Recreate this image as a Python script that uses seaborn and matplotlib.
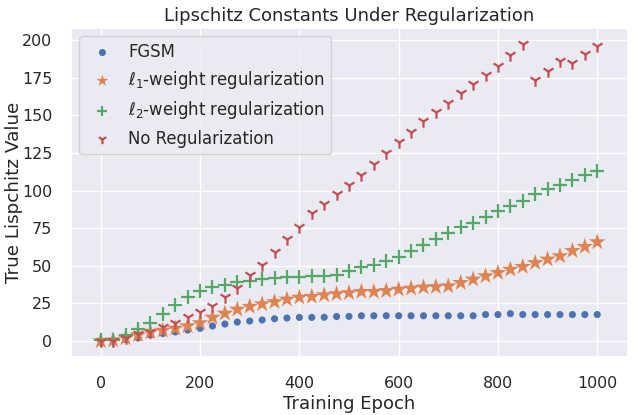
import numpy as np
import pandas as pd
import matplotlib
matplotlib.use("Agg")
import matplotlib.pyplot as plt
import seaborn as sns

epochs = list(range(0, 1001, 25))

fgsm = [0, 0.7, 1, 2, 4, 5, 6, 7.3, 8.4, 10, 11.3, 12.6, 13.3, 14, 14.8, 15.3, 15.7,
        15.7, 15.8, 16.3, 16.4, 16.8, 16.8, 16.8, 16.8, 16.8, 16.8, 16.8, 16.8, 16.8,
        16.8, 17.6, 17.6, 18.2, 17.6, 17.6, 17.6, 17.6, 17.6, 17.6, 17.6]
l1 = [0, 0.5, 2, 4, 6, 7, 8.4, 10, 12, 15.7, 18.4, 21, 23, 24.6, 26, 27.7, 29, 29.5,
      30.6, 31.3, 32, 32.8, 32.8, 33.4, 34.3, 35, 35.7, 36, 36.5, 38.7, 41, 43.2,
      45.4, 47.6, 49.4, 52, 54.3, 56.5, 60, 62.7, 65.8]
l2 = [1, 1, 4, 7.8, 11.7, 18, 24, 29.5, 33, 36, 37, 39.4, 40, 41, 41.6, 42.3, 42.7,
      43.2, 43.4, 43.8, 46.8, 49, 50.5, 53.3, 56, 60, 63.8, 67.6, 71.5, 75.5, 78.6,
      82.6, 86.6, 89.7, 93.2, 97.5, 100.8, 104, 107, 110, 113]
noreg = [0, 0, 2, 5, 6, 9.5, 12, 16, 19, 23, 29, 35, 44, 50.5, 59, 67.5, 76, 85, 91,
         98, 104, 110, 117.6, 125, 132, 139, 146, 152, 158, 165, 171, 177, 183, 190,
         197.5, 173.5, 179.5, 186, 185, 191, 196]

series_labels = ["FGSM", r"$\ell_1$-weight regularization",
                 r"$\ell_2$-weight regularization", "No Regularization"]
title = "Lipschitz Constants Under Regularization"
xlabel = "Training Epoch"
ylabel = "True Lispchitz Value"

sns.set_theme(style="darkgrid")
plt.rcParams['font.family'] = ['DejaVu Sans']

fig = plt.figure(figsize=(6.35, 4.15), dpi=100)
ax = fig.add_axes([71/635, 1-357/415, (628-71)/635, (357-28)/415])

pal = sns.color_palette("deep")
styles = [
    (fgsm, "o", 26, pal[0], 0),
    (l1, "*", 160, pal[1], 0),
    (l2, "+", 95, pal[2], 1.6),
    (noreg, "1", 80, pal[3], 1.6),
]
for (vals, m, s, c, lw), lbl in zip(styles, series_labels):
    df = pd.DataFrame({"epoch": epochs, "value": vals})
    if m in ("+", "1"):
        sns.scatterplot(data=df, x="epoch", y="value", marker=m, s=s, color=c,
                        linewidth=lw, label=lbl, ax=ax)
    else:
        sns.scatterplot(data=df, x="epoch", y="value", marker=m, s=s, color=c,
                        edgecolor="none", linewidth=0, label=lbl, ax=ax)

ax.set_xlim(-60, 1062)
ax.set_ylim(-10.6, 208)
ax.set_xticks([0, 200, 400, 600, 800, 1000])
ax.set_yticks([0, 25, 50, 75, 100, 125, 150, 175, 200])
ax.tick_params(axis="both", labelsize=11.4, pad=7.5)
ax.set_title(title, fontsize=13.0, pad=5)
ax.set_xlabel(xlabel, fontsize=13.0, labelpad=3)
ax.set_ylabel(ylabel, fontsize=13.2)
ax.yaxis.set_label_coords(-0.086, 0.5)

leg = ax.legend(loc="upper left", fontsize=11.9, labelspacing=0.5,
                handletextpad=0.55, borderpad=0.4, frameon=True)
leg_sizes = [26, 80, 60, 45]
for h, sz in zip(leg.legend_handles, leg_sizes):
    h.set_sizes([sz])

fig.savefig("out.png", dpi=100)
